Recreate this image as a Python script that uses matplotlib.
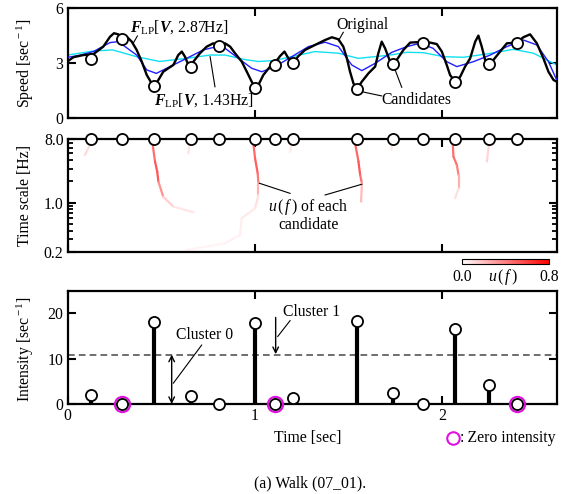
import numpy as np
import matplotlib
matplotlib.use("Agg")
import matplotlib.pyplot as plt
from matplotlib.collections import LineCollection
from matplotlib.colors import LinearSegmentedColormap, Normalize
from matplotlib.lines import Line2D
from matplotlib.ticker import LogLocator, NullFormatter, FixedLocator
import matplotlib.colorbar as mcolorbar

plt.rcParams['font.family'] = ['Liberation Serif', 'DejaVu Serif']
plt.rcParams['mathtext.fontset'] = 'custom'
plt.rcParams['mathtext.rm'] = 'Liberation Serif'
plt.rcParams['mathtext.it'] = 'Liberation Serif:italic'
plt.rcParams['mathtext.bf'] = 'Liberation Serif:bold'
plt.rcParams['mathtext.bfit'] = 'Liberation Serif:italic:bold'
FS = 11.3

# ---------------- data ----------------
orig_t = [0.003, 0.03, 0.083, 0.137, 0.19, 0.226, 0.247, 0.27, 0.29, 0.315, 0.342, 0.368, 0.395, 0.422,
          0.448, 0.462, 0.484, 0.51, 0.537, 0.564, 0.59, 0.609, 0.626, 0.644, 0.657, 0.671, 0.706, 0.742,
          0.777, 0.81, 0.84, 0.867, 0.893, 0.929, 0.956, 0.982, 1.0, 1.018, 1.044, 1.08, 1.107, 1.133,
          1.157, 1.178, 1.205, 1.231, 1.267, 1.32, 1.374, 1.41, 1.445, 1.471, 1.49, 1.507, 1.525, 1.543,
          1.57, 1.605, 1.641, 1.658, 1.676, 1.694, 1.721, 1.738, 1.756, 1.792, 1.828, 1.863, 1.899, 1.934,
          1.97, 1.997, 2.023, 2.041, 2.068, 2.095, 2.121, 2.148, 2.175, 2.192, 2.21, 2.228, 2.249, 2.272,
          2.308, 2.344, 2.397, 2.432, 2.468, 2.504, 2.539, 2.566, 2.593, 2.61]
orig_v = [3.13, 3.33, 3.45, 3.5, 3.91, 4.45, 4.64, 4.58, 4.4, 4.45, 4.18, 3.73, 3.1, 2.36,
          1.91, 1.76, 2.09, 2.54, 2.73, 2.91, 3.45, 3.64, 3.36, 2.91, 2.82, 3.09, 3.55, 3.91,
          4.09, 4.0, 4.09, 3.91, 3.55, 3.09, 2.54, 2.0, 1.67, 1.82, 2.36, 2.82, 3.03, 3.39,
          3.64, 3.27, 3.03, 3.39, 3.73, 4.0, 4.27, 4.42, 4.31, 3.91, 3.27, 2.54, 1.91, 1.58,
          2.0, 2.45, 2.82, 3.55, 4.18, 3.82, 3.09, 2.94, 3.18, 3.73, 4.13, 4.15, 4.09, 4.13,
          4.05, 3.64, 2.91, 2.36, 2.0, 2.27, 2.82, 3.27, 4.18, 4.51, 3.91, 3.18, 2.95, 3.18,
          3.64, 4.09, 4.13, 4.42, 4.58, 4.09, 3.27, 2.54, 2.09, 2.0]

lp287_t = [0.003, 0.07, 0.137, 0.226, 0.27, 0.368, 0.422, 0.473, 0.546, 0.635, 0.724, 0.795, 0.84, 0.911,
           0.982, 1.036, 1.107, 1.196, 1.285, 1.374, 1.445, 1.516, 1.57, 1.641, 1.73, 1.81, 1.88, 1.95,
           2.023, 2.077, 2.166, 2.255, 2.344, 2.432, 2.504, 2.566, 2.61]
lp287_v = [3.33, 3.45, 3.64, 4.13, 4.18, 3.45, 2.64, 2.45, 2.82, 3.27, 3.73, 3.91, 3.82, 3.27,
           2.73, 2.54, 2.82, 3.36, 3.91, 4.15, 3.91, 2.91, 2.6, 3.0, 3.6, 3.91, 4.09, 3.82,
           3.09, 2.82, 3.09, 3.45, 3.91, 4.27, 4.0, 3.09, 2.09]

lp143_t = [0.0, 0.137, 0.24, 0.368, 0.49, 0.635, 0.76, 0.84, 0.947, 1.018, 1.1, 1.196, 1.32, 1.445,
           1.55, 1.676, 1.72, 1.81, 1.899, 2.006, 2.113, 2.237, 2.379, 2.486, 2.61]
lp143_v = [3.45, 3.67, 3.73, 3.36, 3.1, 3.27, 3.45, 3.45, 3.2, 3.1, 3.15, 3.36, 3.64, 3.55,
           3.27, 3.4, 3.45, 3.6, 3.58, 3.36, 3.33, 3.51, 3.76, 3.55, 2.91]

cand_t = [0.124, 0.288, 0.462, 0.657, 0.81, 1.0, 1.107, 1.205, 1.543, 1.738, 1.899, 2.068, 2.249, 2.397]
cand_v = [3.22, 4.31, 1.76, 2.82, 3.96, 1.67, 2.91, 3.0, 1.58, 2.94, 4.09, 2.0, 2.95, 4.13]
cand_intensity = [2.0, 0.0, 18.0, 1.8, 0.1, 17.8, 0.0, 1.4, 18.4, 2.35, 0.1, 16.5, 4.3, 0.0]
zero_intensity = [False, True, False, False, False, False, True, False, False, False, False, False, False, True]
threshold = 10.9

# u(f) traces: (time, frequency, u) for each candidate
trace_t = [[0.124, 0.123, 0.092],
           [0.462, 0.454, 0.466, 0.478, 0.484, 0.51, 0.564, 0.671],
           [0.657, 0.649, 0.644],
           [1.0, 0.991, 1.0, 1.014, 1.018, 1.018, 1.0, 0.929, 0.92, 0.84, 0.635],
           [1.205, 1.196, 1.187],
           [1.543, 1.534, 1.552, 1.561, 1.57, 1.566],
           [1.738, 1.73, 1.728],
           [2.068, 2.055, 2.059, 2.077, 2.086, 2.086, 2.068],
           [2.249, 2.249, 2.237]]
trace_f = [[8.0, 6.95, 4.74],
           [8.0, 6.58, 3.82, 2.74, 1.98, 1.21, 0.875, 0.726],
           [8.0, 6.95, 5.0],
           [8.0, 6.95, 4.25, 2.61, 1.88, 1.28, 0.828, 0.597, 0.346, 0.263, 0.212],
           [8.0, 6.95, 5.27],
           [8.0, 6.95, 3.82, 2.47, 1.88, 1.03],
           [8.0, 6.95, 5.6],
           [8.0, 6.95, 4.48, 3.43, 2.47, 1.59, 1.15],
           [8.0, 6.95, 3.82]]
trace_u = [[0.1, 0.15, 0.08],
           [0.35, 0.4, 0.5, 0.55, 0.5, 0.2, 0.1, 0.06],
           [0.1, 0.12, 0.05],
           [0.4, 0.45, 0.5, 0.5, 0.35, 0.12, 0.08, 0.06, 0.05, 0.04, 0.03],
           [0.08, 0.1, 0.05],
           [0.4, 0.45, 0.5, 0.55, 0.35, 0.08],
           [0.08, 0.1, 0.05],
           [0.35, 0.45, 0.45, 0.45, 0.35, 0.15, 0.05],
           [0.15, 0.2, 0.06]]

XMAX = 2.61

# ---------------- figure ----------------
W, H = 567, 494
fig = plt.figure(figsize=(W / 100, H / 100), dpi=100)

def fax(x0, y0, x1, y1):
    return fig.add_axes([x0 / W, 1 - y1 / H, (x1 - x0) / W, (y1 - y0) / H])

ax1 = fax(67.7, 8.3, 556.7, 118.3)
ax2 = fax(67.7, 139, 556.7, 251.7)
ax3 = fax(67.7, 290.7, 556.7, 404)

for ax in (ax1, ax2, ax3):
    for s in ax.spines.values():
        s.set_linewidth(1.6)
    ax.tick_params(which='major', direction='in', length=6, width=1.5, top=True, right=True,
                   labelsize=FS, pad=3)
    ax.tick_params(which='minor', direction='in', length=3.5, width=1.3, top=True, right=True)
    ax.set_xlim(0, XMAX)
    ax.set_xticks([0, 1, 2])

mk = dict(marker='o', ms=8, mfc='white', mec='black', mew=1.3, ls='none')

# ---- top panel ----
ax1.plot(lp143_t, lp143_v, color='#10e0f0', lw=1.0, zorder=2)
ax1.plot(lp287_t, lp287_v, color='#2020ff', lw=1.0, zorder=3)
ax1.plot(orig_t, orig_v, color='black', lw=1.7, zorder=4)
ax1.plot(cand_t, cand_v, zorder=5, **mk)
ax1.set_ylim(0, 6)
ax1.set_yticks([0, 3, 6])
ax1.tick_params(labelbottom=False)

ax1.text(0.594, 5.0, r'$\boldsymbol{F}_{\rm LP}[\boldsymbol{V}$, 2.87Hz]', fontsize=FS, ha='center', va='center')
ax1.plot([0.372, 0.35], [4.49, 4.1], color='black', lw=0.8)
ax1.text(1.571, 5.09, 'Original', fontsize=FS, ha='center', va='center')
ax1.plot([1.471, 1.445], [4.69, 4.23], color='black', lw=0.8)
ax1.text(0.724, 1.0, r'$\boldsymbol{F}_{\rm LP}[\boldsymbol{V}$, 1.43Hz]', fontsize=FS, ha='center', va='center')
ax1.plot([0.786, 0.76], [1.72, 3.36], color='black', lw=0.8)
ax1.text(1.863, 1.0, 'Candidates', fontsize=FS, ha='center', va='center')
ax1.plot([1.676, 1.57], [1.22, 1.45], color='black', lw=0.8)
ax1.plot([1.783, 1.748], [1.69, 2.63], color='black', lw=0.8)

# ---- middle panel ----
cmap = LinearSegmentedColormap.from_list('wr', ['#ffffff', '#ff0000'])
norm = Normalize(0.0, 0.8)
for tt, ff, uu in zip(trace_t, trace_f, trace_u):
    segs = [[(tt[i], ff[i]), (tt[i + 1], ff[i + 1])] for i in range(len(tt) - 1)]
    cols = [cmap(norm((uu[i] + uu[i + 1]) / 2)) for i in range(len(tt) - 1)]
    ax2.add_collection(LineCollection(segs, colors=cols, linewidths=1.6, capstyle='round', zorder=2))
ax2.set_yscale('log')
ax2.set_ylim(0.2, 8.0)
ax2.yaxis.set_major_locator(FixedLocator([0.2, 1.0, 8.0]))
ax2.set_yticklabels(['0.2', '1.0', '8.0'])
ax2.yaxis.set_minor_locator(LogLocator(base=10, subs=np.arange(2, 10)))
ax2.yaxis.set_minor_formatter(NullFormatter())
ax2.tick_params(labelbottom=False)
ax2.plot(cand_t, [8.0] * len(cand_t), zorder=6, clip_on=False, **mk)
ax2.text(1.285, 0.665, r'$u\,(\,f\,)$ of each' + '\ncandidate', fontsize=FS, ha='center', va='center',
         linespacing=1.0)
ax2.plot([1.187, 1.023], [1.35, 1.88], color='black', lw=0.8)
ax2.plot([1.374, 1.57], [1.28, 1.82], color='black', lw=0.8)

# colorbar
cax = fax(461.7, 259.3, 549.3, 264.3)
cb = mcolorbar.ColorbarBase(cax, cmap=cmap, norm=norm, orientation='horizontal')
cb.set_ticks([])
cb.outline.set_linewidth(0.8)
fig.text(461.7 / W, 1 - 277 / H, '0.0', fontsize=FS, ha='center', va='center')
fig.text(503 / W, 1 - 277 / H, r'$u\,(\,f\,)$', fontsize=FS, ha='center', va='center')
fig.text(549.3 / W, 1 - 277 / H, '0.8', fontsize=FS, ha='center', va='center')

# ---- bottom panel ----
for t, v in zip(cand_t, cand_intensity):
    ax3.plot([t, t], [0, v], color='black', lw=3.0, zorder=3, solid_capstyle='butt')
ax3.axhline(threshold, color='#555555', lw=1.2, ls=(0, (4, 2.5)), zorder=1)
zt = [t for t, z in zip(cand_t, zero_intensity) if z]
zv = [v for v, z in zip(cand_intensity, zero_intensity) if z]
ax3.plot(zt, zv, marker='o', ms=11, mfc='none', mec='#e010e0', mew=1.5, ls='none', zorder=4, clip_on=False)
ax3.plot(cand_t, cand_intensity, zorder=5, clip_on=False, **mk)
ax3.set_ylim(0, 25)
ax3.set_yticks([0, 10, 20])
ax3.set_xticklabels(['0', '1', '2'])
ax3.annotate('', xy=(0.555, 0.0), xytext=(0.555, threshold),
             arrowprops=dict(arrowstyle='<->', color='black', lw=1.0, shrinkA=0, shrinkB=0,
                             mutation_scale=10))
ax3.annotate('', xy=(1.11, threshold + 0.1), xytext=(1.11, 19.1),
             arrowprops=dict(arrowstyle='->', color='black', lw=1.0, shrinkA=0, shrinkB=0,
                             mutation_scale=10))
ax3.text(0.733, 15.2, 'Cluster 0', fontsize=FS, ha='center', va='center')
ax3.plot([0.715, 0.564], [13.0, 4.6], color='black', lw=0.8)
ax3.text(1.304, 20.2, 'Cluster 1', fontsize=FS, ha='center', va='center')
ax3.plot([1.187, 1.121], [18.4, 14.9], color='black', lw=0.8)

# axis labels
fig.text(25 / W, 1 - 63 / H, r'Speed [sec$^{\rm -1}$]', rotation=90, fontsize=FS, ha='center', va='center')
fig.text(25 / W, 1 - 195 / H, 'Time scale [Hz]', rotation=90, fontsize=FS, ha='center', va='center')
fig.text(25 / W, 1 - 349 / H, r'Intensity [sec$^{\rm -1}$]', rotation=90, fontsize=FS, ha='center', va='center')
fig.text(308 / W, 1 - 438 / H, 'Time [sec]', fontsize=FS, ha='center', va='center')

zt_txt = fig.text(555 / W, 1 - 438 / H, ':\u2009Zero intensity', fontsize=FS, ha='right', va='center')
fig.canvas.draw()
bb = zt_txt.get_window_extent()
fig.add_artist(Line2D([(bb.x0 - 7) / W], [1 - 438 / H], transform=fig.transFigure, marker='o', ms=9,
                      mfc='none', mec='#e010e0', mew=1.5, ls='none'))
fig.text(310 / W, 2.5 / H, '(a) Walk (07_01).', fontsize=FS, ha='center', va='bottom')

fig.savefig('out.png', dpi=100)
